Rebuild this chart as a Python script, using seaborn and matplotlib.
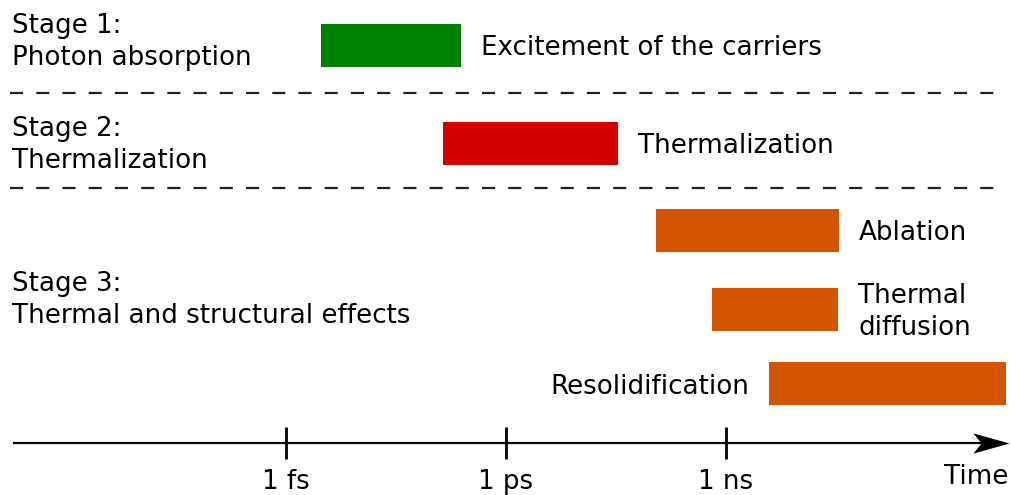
import numpy as np
import pandas as pd
import matplotlib
matplotlib.use("Agg")
import matplotlib.pyplot as plt
from matplotlib.path import Path
from matplotlib.ticker import FixedLocator, NullLocator
import seaborn as sns

# processes (seconds, log time axis)
processes = ["Excitement of the carriers", "Thermalization", "Ablation",
             "Thermal\ndiffusion", "Resolidification"]
t_start = [3.0e-15, 1.4e-13, 1.1e-10, 6.5e-10, 3.8e-9]
t_end = [2.4e-13, 3.4e-11, 3.5e-8, 3.4e-8, 6.5e-6]
row_y = [45, 143, 230.5, 309, 383.5]
colors = ["#008000", "#d40000", "#d45500", "#d45500", "#d45500"]

stages = ["Stage 1:\nPhoton absorption", "Stage 2:\nThermalization",
          "Stage 3:\nThermal and structural effects"]
stage_y = [42, 145, 300]
separators_y = [93, 188]

tick_values = [1e-15, 1e-12, 1e-9]
tick_labels = ["1 fs", "1 ps", "1 ns"]

df = pd.DataFrame({"process": processes, "start": t_start, "end": t_end,
                   "y": row_y, "color": colors})
df["width"] = df["end"] - df["start"]

sns.set_style("white")
plt.rcParams["font.family"] = ["DejaVu Sans"]
plt.rcParams["text.color"] = "black"
FS = 18.8
DY = 3  # text vertical nudge (px)

fig = plt.figure(figsize=(10.11, 4.95), dpi=100)
ax = fig.add_axes([0, 0, 1, 1])
ax.set_xscale("log")
# 1 fs at x=286 px, 1 ns at x=726 px
ppd = (726 - 286) / 6.0
ax.set_xlim(10 ** (-15 - 286 / ppd), 10 ** (-15 + (1011 - 286) / ppd))
ax.set_ylim(495, 0)

ax.barh(df["y"], df["width"], left=df["start"], height=43,
        color=df["color"], edgecolor="none")

# labels next to bars
for i, r in df.iterrows():
    if r["process"] == "Resolidification":
        ax.text(r["start"] / 10 ** (19 / ppd), r["y"] + DY, r["process"],
                ha="right", va="center", fontsize=FS, color="black")
    else:
        ax.text(r["end"] * 10 ** (20 / ppd), r["y"] + DY, r["process"],
                ha="left", va="center", fontsize=FS, linespacing=1.3,
                color="black")

x0 = ax.get_xlim()[0]
for s, y in zip(stages, stage_y):
    ax.text(x0 * 10 ** (12 / ppd), y, s, ha="left", va="center",
            fontsize=FS, linespacing=1.3, color="black")

ax.hlines(separators_y, x0 * 10 ** (10 / ppd), x0 * 10 ** (1000 / ppd),
          color="#222222", lw=1.6, linestyles=(0, (5.9, 5.9)))

# time axis with concave arrow head
axis_y = 443
ax.plot([x0 * 10 ** (13 / ppd), x0 * 10 ** (988 / ppd)], [axis_y, axis_y],
        color="black", lw=1.6, solid_capstyle="butt")
head = Path([(1, 0), (-1, 0.56), (-0.55, 0), (-1, -0.56), (1, 0)],
            [Path.MOVETO, Path.LINETO, Path.LINETO, Path.LINETO, Path.CLOSEPOLY])
ax.plot([x0 * 10 ** (991 / ppd)], [axis_y], marker=head, markersize=26,
        color="black", markeredgewidth=0, linestyle="none")

ax.spines["bottom"].set_position(("data", axis_y))
for sp in ax.spines.values():
    sp.set_visible(False)
ax.xaxis.set_major_locator(FixedLocator(tick_values))
ax.xaxis.set_minor_locator(NullLocator())
ax.set_xticklabels(tick_labels)
ax.tick_params(axis="x", bottom=True, direction="inout", length=23.5, width=2,
               labelsize=FS, pad=7, color="black", labelcolor="black")
ax.set_yticks([])
ax.text(x0 * 10 ** (976 / ppd), 477, "Time", ha="center", va="center",
        fontsize=FS, color="black")

fig.savefig("out.png", dpi=100)
